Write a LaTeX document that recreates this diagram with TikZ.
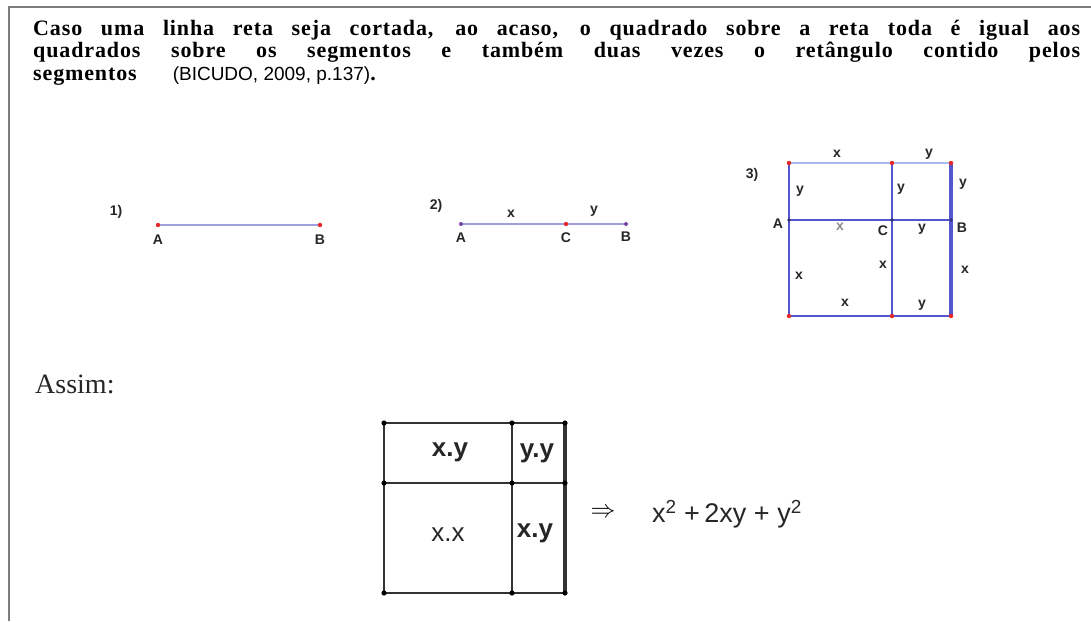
\documentclass[tikz,border=0pt]{standalone}
\usepackage{fontspec}
\setmainfont{Liberation Serif}
\setsansfont{Liberation Sans}
\usepackage{xcolor}
\usepackage{tikz}
\usetikzlibrary{positioning}

\definecolor{lilas}{RGB}{160,160,225}
\definecolor{azul}{RGB}{85,85,205}
\definecolor{azulclaro}{RGB}{170,185,235}
\definecolor{vermelho}{RGB}{230,40,40}
\definecolor{moldura}{RGB}{125,125,125}

\begin{document}
\begin{tikzpicture}[
    x=1pt, y=-1pt,
    rotulo/.style={font=\sffamily\bfseries\fontsize{14}{14}\selectfont, text=black!85, inner sep=1pt},
    produto/.style={font=\sffamily\bfseries\fontsize{26}{26}\selectfont, text=black!85, inner sep=1pt},
    segmento/.style={lilas, line width=1.6pt},
    lado/.style={azul, line width=1.8pt},
    grade/.style={black!80, line width=1.4pt}
]
\useasboundingbox (0,0) rectangle (1091,621);

% Moldura
\coordinate (canto) at (9,7);
\coordinate (topo) at (1091,7);
\coordinate (base) at (9,621);
\draw[moldura, line width=2pt] (base) -- (canto) -- (topo);

% Enunciado
\node[anchor=north west, inner sep=0pt, text width=1047pt, align=justify,
      font=\fontsize{22}{22.5}\selectfont\bfseries\addfontfeatures{LetterSpace=4}] (enunciado) at (33,20)
  {Caso uma linha reta seja cortada, ao acaso, o quadrado sobre a reta toda é igual aos\linebreak
   quadrados sobre os segmentos e também duas vezes o retângulo contido pelos\linebreak
   segmentos\hspace{36pt}{\sffamily\mdseries\fontsize{19}{19}\selectfont (BICUDO, 2009, p.137)}.};

% Figura 1
\coordinate (a1) at (158,225);
\coordinate (b1) at (320,225);
\draw[segmento] (a1) -- (b1);
\node[rotulo] (num1) at (116,212) {1)};
\node[rotulo, below=9pt of a1] (rA1) {A};
\node[rotulo, below=9pt of b1] (rB1) {B};

% Figura 2
\coordinate (a2) at (461,224);
\coordinate (c2) at (566,224);
\coordinate (b2) at (626,224);
\draw[segmento] (a2) -- (c2) -- (b2);
\node[rotulo] (num2) at (436,206) {2)};
\node[rotulo, below=8pt of a2] (rA2) {A};
\node[rotulo, below=8pt of c2] (rC2) {C};
\node[rotulo, below=7pt of b2] (rB2) {B};
\node[rotulo] (x2) at (511,214) {x};
\node[rotulo] (y2) at (594,211) {y};

% Figura 3
\coordinate (p11) at (789,163);
\coordinate (p12) at (892,163);
\coordinate (p13) at (951,163);
\coordinate (p21) at (789,220);
\coordinate (p22) at (892,220);
\coordinate (p23) at (951,220);
\coordinate (p31) at (789,316);
\coordinate (p32) at (892,316);
\coordinate (p33) at (951,316);
\draw[azulclaro, line width=1.6pt] (p11) -- (p12) -- (p13);
\draw[lado] (p11) -- (p21) -- (p31);
\draw[lado] (p21) -- (p22) -- (p23);
\draw[lado] (p12) -- (p22) -- (p32);
\draw[lado] (p31) -- (p32) -- (p33);
\draw[lado, line width=3.6pt] (p13) -- (p23) -- (p33);
\node[rotulo] (num3) at (752,175) {3)};
\node[rotulo] (x31) at (837,154) {x};
\node[rotulo] (y31) at (929,154) {y};
\node[rotulo] (y32) at (800,191) {y};
\node[rotulo] (y33) at (901,189) {y};
\node[rotulo] (y34) at (963,184) {y};
\node[rotulo] (rA3) at (778,224) {A};
\node[rotulo, text=black!45] (x32) at (840,227) {x};
\node[rotulo] (rC3) at (883,231) {C};
\node[rotulo] (y35) at (922,229) {y};
\node[rotulo] (rB3) at (962,228) {B};
\node[rotulo] (x33) at (883,265) {x};
\node[rotulo] (x34) at (965,270) {x};
\node[rotulo] (x35) at (799,276) {x};
\node[rotulo] (x36) at (845,303) {x};
\node[rotulo] (y36) at (922,305) {y};

% Pontos
\foreach \p in {a1,b1,c2,p11,p12,p13,p31,p32,p33}
  \fill[vermelho] (\p) circle (2.2pt);
\foreach \p in {a2,b2}
  \fill[azul!80!red] (\p) circle (2pt);
\foreach \p in {p21,p22,p23}
  \fill[azul!60!black] (\p) circle (1.8pt);

% Assim
\node[anchor=base west, inner sep=0pt, font=\fontsize{28}{28}\selectfont, text=black!85] (assim) at (35,393) {Assim:};

% Quadrado final
\coordinate (q11) at (384,423);
\coordinate (q12) at (512,423);
\coordinate (q13) at (565,423);
\coordinate (q21) at (384,483);
\coordinate (q22) at (512,483);
\coordinate (q23) at (565,483);
\coordinate (q31) at (384,593);
\coordinate (q32) at (512,593);
\coordinate (q33) at (565,593);
\draw[grade] (q11) -- (q12) -- (q13);
\draw[grade] (q11) -- (q21) -- (q31);
\draw[grade] (q21) -- (q22) -- (q23);
\draw[grade] (q12) -- (q22) -- (q32);
\draw[grade] (q31) -- (q32) -- (q33);
\draw[grade, line width=3.4pt] (q13) -- (q23) -- (q33);
\foreach \p in {q11,q12,q13,q21,q22,q23,q31,q32,q33}
  \fill[black] (\p) circle (2.6pt);
\node[produto] (xy1) at (450,452) {x.y};
\node[produto] (yy) at (537,453) {y.y};
\node[produto, font=\sffamily\fontsize{26}{26}\selectfont] (xx) at (448,535) {x.x};
\node[produto] (xy2) at (535,533) {x.y};

% Resultado
\node[font=\fontsize{26}{26}\selectfont] (implica) at (603,513) {$\Rightarrow$};
\node[anchor=west, inner sep=0pt, font=\sffamily\fontsize{27}{27}\selectfont, text=black!85] (resultado) at (652,514)
  {x\textsuperscript{2} +\,2xy + y\textsuperscript{2}};

\end{tikzpicture}
\end{document}
